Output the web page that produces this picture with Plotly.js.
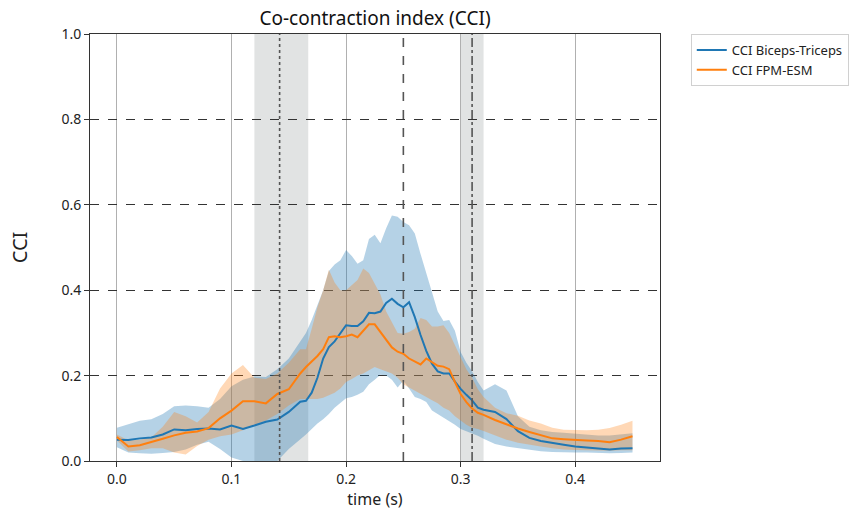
<!DOCTYPE html>
<html>
<head>
<meta charset="utf-8">
<script src="https://cdn.plot.ly/plotly-3.0.1.min.js"></script>
<style>html,body{margin:0;padding:0;background:#fff;}#chart{width:861px;height:510px;}</style>
</head>
<body>
<div id="chart"></div>
<script>
const time = [0.000,0.010,0.020,0.030,0.040,0.050,0.060,0.070,0.080,0.090,0.100,0.110,0.120,0.130,0.140,0.150,0.160,0.165,0.170,0.175,0.180,0.185,0.190,0.195,0.200,0.205,0.210,0.215,0.220,0.225,0.230,0.235,0.240,0.245,0.250,0.255,0.260,0.265,0.270,0.275,0.280,0.285,0.290,0.295,0.300,0.305,0.310,0.315,0.320,0.330,0.340,0.350,0.360,0.370,0.380,0.390,0.400,0.410,0.420,0.430,0.440,0.450];

const bicepsMean = [0.050,0.049,0.053,0.055,0.062,0.074,0.072,0.075,0.076,0.074,0.083,0.075,0.083,0.092,0.097,0.115,0.139,0.141,0.160,0.195,0.240,0.267,0.280,0.298,0.318,0.316,0.316,0.327,0.347,0.346,0.350,0.370,0.380,0.368,0.360,0.372,0.337,0.295,0.258,0.228,0.210,0.205,0.205,0.186,0.169,0.155,0.142,0.125,0.120,0.115,0.098,0.070,0.054,0.047,0.042,0.038,0.034,0.032,0.030,0.027,0.029,0.030];
const bicepsUpper = [0.078,0.086,0.094,0.098,0.110,0.128,0.130,0.128,0.125,0.145,0.175,0.190,0.198,0.197,0.215,0.240,0.280,0.300,0.330,0.365,0.400,0.445,0.460,0.470,0.494,0.480,0.462,0.470,0.520,0.530,0.510,0.545,0.575,0.572,0.560,0.552,0.533,0.485,0.440,0.400,0.350,0.328,0.330,0.305,0.255,0.230,0.210,0.185,0.165,0.180,0.165,0.105,0.080,0.072,0.068,0.066,0.064,0.062,0.060,0.060,0.062,0.065];
const bicepsLower = [0.032,0.020,0.018,0.017,0.019,0.021,0.027,0.038,0.045,0.028,0.008,0.000,0.000,0.000,0.000,0.028,0.050,0.062,0.075,0.088,0.098,0.110,0.125,0.137,0.147,0.150,0.155,0.162,0.180,0.190,0.202,0.200,0.190,0.172,0.188,0.170,0.150,0.145,0.138,0.118,0.110,0.100,0.093,0.085,0.075,0.070,0.064,0.059,0.052,0.040,0.034,0.030,0.026,0.023,0.021,0.020,0.020,0.020,0.019,0.018,0.019,0.020];

const fpmMean = [0.056,0.034,0.037,0.044,0.052,0.060,0.066,0.069,0.077,0.100,0.118,0.140,0.140,0.135,0.157,0.168,0.205,0.220,0.232,0.246,0.262,0.290,0.292,0.290,0.292,0.296,0.290,0.305,0.320,0.320,0.302,0.284,0.266,0.256,0.251,0.240,0.232,0.226,0.240,0.232,0.223,0.221,0.215,0.185,0.157,0.138,0.123,0.113,0.108,0.096,0.086,0.076,0.068,0.060,0.053,0.051,0.049,0.048,0.047,0.044,0.050,0.058];
const fpmUpper = [0.062,0.048,0.050,0.055,0.080,0.115,0.105,0.090,0.115,0.170,0.205,0.225,0.195,0.192,0.205,0.230,0.262,0.262,0.310,0.360,0.400,0.448,0.418,0.400,0.400,0.412,0.424,0.451,0.440,0.415,0.390,0.350,0.325,0.300,0.298,0.302,0.310,0.335,0.330,0.315,0.315,0.318,0.300,0.270,0.243,0.215,0.195,0.168,0.150,0.125,0.112,0.106,0.095,0.088,0.078,0.073,0.072,0.072,0.073,0.077,0.085,0.094];
const fpmLower = [0.048,0.022,0.025,0.030,0.030,0.020,0.015,0.035,0.050,0.058,0.062,0.072,0.085,0.095,0.110,0.130,0.145,0.145,0.145,0.145,0.148,0.155,0.160,0.170,0.185,0.192,0.200,0.205,0.212,0.220,0.215,0.210,0.205,0.195,0.180,0.172,0.165,0.158,0.150,0.142,0.135,0.125,0.118,0.105,0.094,0.085,0.078,0.075,0.070,0.060,0.050,0.043,0.038,0.034,0.030,0.027,0.026,0.025,0.024,0.024,0.025,0.025];

const seriesNames = ["CCI Biceps-Triceps", "CCI FPM-ESM"];
const xTicks = [0.0, 0.1, 0.2, 0.3, 0.4];
const xTickText = ["0.0", "0.1", "0.2", "0.3", "0.4"];
const yTicks = [0.0, 0.2, 0.4, 0.6, 0.8, 1.0];
const yTickText = ["0.0", "0.2", "0.4", "0.6", "0.8", "1.0"];

// event markers
const bands = [[0.120, 0.167], [0.300, 0.320]];
const eventLines = [{x: 0.142, dash: "dot"}, {x: 0.250, dash: "dash"}, {x: 0.310, dash: "dashdot"}];

const blue = "#1f77b4", orange = "#ff7f0e";

const traces = [
  {x: time, y: bicepsUpper, mode: "lines", line: {width: 0, color: blue}, showlegend: false, hoverinfo: "skip"},
  {x: time, y: bicepsLower, mode: "lines", line: {width: 0, color: blue}, fill: "tonexty", fillcolor: "rgba(31,119,180,0.33)", showlegend: false, hoverinfo: "skip"},
  {x: time, y: fpmUpper, mode: "lines", line: {width: 0, color: orange}, showlegend: false, hoverinfo: "skip"},
  {x: time, y: fpmLower, mode: "lines", line: {width: 0, color: orange}, fill: "tonexty", fillcolor: "rgba(255,127,14,0.3)", showlegend: false, hoverinfo: "skip"},
  {x: time, y: bicepsMean, mode: "lines", name: seriesNames[0], line: {width: 2, color: blue}},
  {x: time, y: fpmMean, mode: "lines", name: seriesNames[1], line: {width: 2, color: orange}}
];

const shapes = [];
bands.forEach(b => shapes.push({type: "rect", xref: "x", yref: "paper", x0: b[0], x1: b[1], y0: 0, y1: 1, fillcolor: "rgba(130,140,140,0.24)", line: {width: 0}, layer: "below"}));
eventLines.forEach(e => shapes.push({type: "line", xref: "x", yref: "paper", x0: e.x, x1: e.x, y0: 0, y1: 1, line: {color: "#555", width: 1.6, dash: e.dash}}));

const layout = {
  width: 861, height: 510,
  margin: {l: 90, r: 199, t: 34, b: 49},
  paper_bgcolor: "#fff", plot_bgcolor: "#fff",
  font: {family: "Noto Sans, DejaVu Sans, sans-serif", size: 14, color: "#222"},
  title: {text: "Co-contraction index (CCI)", x: 0.5, xref: "paper", xanchor: "center", y: 1 - 18/510, yref: "container", yanchor: "middle", font: {size: 19, color: "#111"}},
  xaxis: {
    range: [-0.0235, 0.474], tickvals: xTicks, ticktext: xTickText,
    showgrid: true, gridcolor: "#b0b0b0", gridwidth: 1,
    zeroline: false, showline: true, mirror: true, linecolor: "#333", linewidth: 1,
    ticks: "outside", ticklen: 5, tickcolor: "#333",
    title: {text: "time (s)", font: {size: 16}, standoff: 3}
  },
  yaxis: {
    range: [0, 1], tickvals: yTicks, ticktext: yTickText,
    showgrid: true, gridcolor: "#333", gridwidth: 1, griddash: "dash",
    zeroline: false, showline: true, mirror: true, linecolor: "#333", linewidth: 1,
    ticks: "outside", ticklen: 5, tickcolor: "#333",
    title: {text: "CCI", font: {size: 20}, standoff: 28}
  },
  legend: {x: 1.054, xanchor: "left", y: 1.0, yanchor: "top", traceorder: "normal", bgcolor: "#fff", bordercolor: "#d0d0d0", borderwidth: 1, font: {size: 13}, tracegroupgap: 0},
  shapes: shapes,
  showlegend: true
};

Plotly.newPlot("chart", traces, layout, {displayModeBar: false, staticPlot: true});
</script>
</body>
</html>
